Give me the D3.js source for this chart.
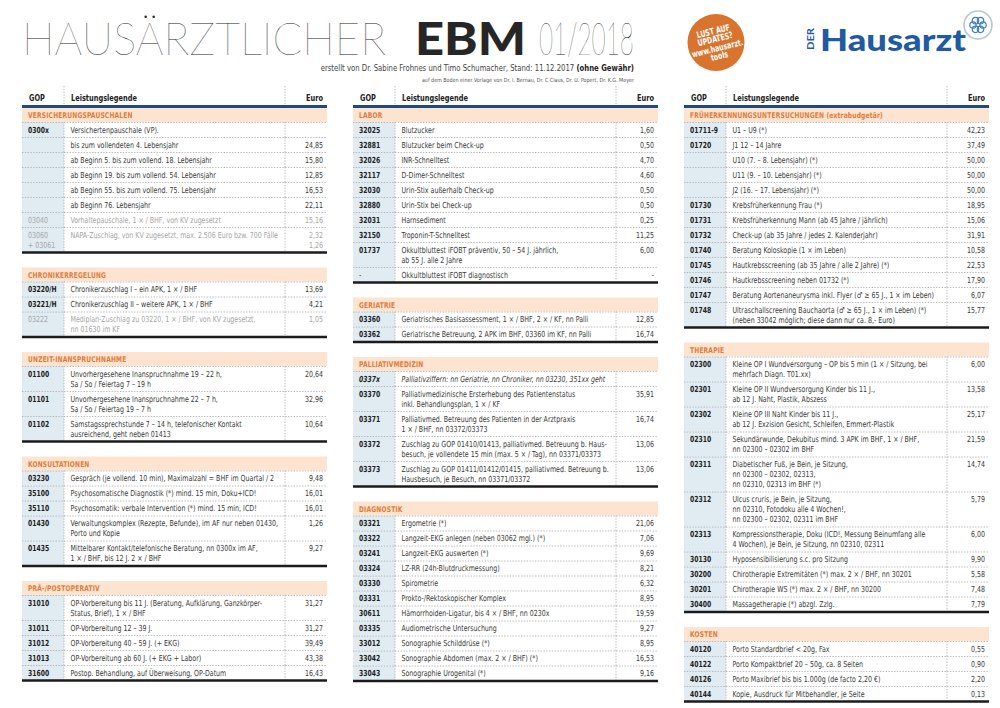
<!DOCTYPE html>
<html><head><meta charset="utf-8">
<script src="https://cdn.jsdelivr.net/npm/d3@7"></script>
<style>html,body{margin:0;padding:0;background:#fff;} svg{display:block}</style>
</head><body><svg id="c" width="1000" height="708"></svg>
<script>
// ---------------- DATA ----------------
const titleParts = ["HAUSÄRZTLICHER", "EBM", "01/2018"];
const subtitleParts = ["erstellt von Dr. Sabine Frohnes und Timo Schumacher, Stand: 11.12.2017 ", "(ohne Gewähr)"];
const creditLine = "auf dem Boden einer Vorlage von Dr. I. Bernau, Dr. C Claus, Dr. U. Popert, Dr. K.G. Meyer";
const badgeLines = ["LUST AUF", "UPDATES?", "www.hausarzt.", "tools"];
const logoWords = ["DER", "Hausarzt"];
const columnHeaders = ["GOP", "Leistungslegende", "Euro"];

const sectionTitles = ["VERSICHERUNGSPAUSCHALEN", "CHRONIKERREGELUNG", "UNZEIT-INANSPRUCHNAHME", "KONSULTATIONEN", "PRÄ-/POSTOPERATIV",
  "LABOR", "GERIATRIE", "PALLIATIVMEDIZIN", "DIAGNOSTIK",
  "FRÜHERKENNUNGSUNTERSUCHUNGEN", "THERAPIE", "KOSTEN"];
const sectionSubtitles = ["", "", "", "", "", "", "", "", "", " (extrabudgetär)", "", ""];
const sectionColumn = [0, 0, 0, 0, 0, 1, 1, 1, 1, 2, 2, 2];

const versicherungspauschalen = [
  ["0300x", "Versichertenpauschale (VP).", ""],
  ["", "bis zum vollendeten 4. Lebensjahr", "24,85"],
  ["", "ab Beginn 5. bis zum vollend. 18. Lebensjahr", "15,80"],
  ["", "ab Beginn 19. bis zum vollend. 54. Lebensjahr", "12,85"],
  ["", "ab Beginn 55. bis zum vollend. 75. Lebensjahr", "16,53"],
  ["", "ab Beginn 76. Lebensjahr", "22,11"],
  ["03040", "Vorhaltepauschale, 1 × / BHF, von KV zugesetzt", "15,16"],
  ["03060\n+ 03061", "NAPA-Zuschlag, von KV zugesetzt, max. 2.506 Euro bzw. 700 Fälle", "2,32\n1,26"]
];
const chronikerregelung = [
  ["03220/H", "Chronikerzuschlag I – ein APK, 1 × / BHF", "13,69"],
  ["03221/H", "Chronikerzuschlag II – weitere APK, 1 × / BHF", "4,21"],
  ["03222", "Mediplan-Zuschlag zu 03220, 1 × / BHF, von KV zugesetzt,\nnn 01630 im KF", "1,05"]
];
const unzeit = [
  ["01100", "Unvorhergesehene Inanspruchnahme 19 – 22 h,\nSa / So / Feiertag 7 – 19 h", "20,64"],
  ["01101", "Unvorhergesehene Inanspruchnahme 22 – 7 h,\nSa / So / Feiertag 19 – 7 h", "32,96"],
  ["01102", "Samstagssprechstunde 7 – 14 h, telefonischer Kontakt\nausreichend, geht neben 01413", "10,64"]
];
const konsultationen = [
  ["03230", "Gespräch (je vollend. 10 min), Maximalzahl = BHF im Quartal / 2", "9,48"],
  ["35100", "Psychosomatische Diagnostik (*) mind. 15 min, Doku+ICD!", "16,01"],
  ["35110", "Psychosomatik: verbale Intervention (*) mind. 15 min, ICD!", "16,01"],
  ["01430", "Verwaltungskomplex (Rezepte, Befunde), im AF nur neben 01430,\nPorto und Kopie", "1,26"],
  ["01435", "Mittelbarer Kontakt/telefonische Beratung, nn 0300x im AF,\n1 × / BHF, bis 12 J. 2 × / BHF", "9,27"]
];
const praepostoperativ = [
  ["31010", "OP-Vorbereitung bis 11 J. (Beratung, Aufklärung, Ganzkörper-\nStatus, Brief), 1 × / BHF", "31,27"],
  ["31011", "OP-Vorbereitung 12 – 39 J.", "31,27"],
  ["31012", "OP-Vorbereitung 40 – 59 J. (+ EKG)", "39,49"],
  ["31013", "OP-Vorbereitung ab 60 J. (+ EKG + Labor)", "43,38"],
  ["31600", "Postop. Behandlung, auf Überweisung, OP-Datum", "16,43"]
];
const labor = [
  ["32025", "Blutzucker", "1,60"],
  ["32881", "Blutzucker beim Check-up", "0,50"],
  ["32026", "INR-Schnelltest", "4,70"],
  ["32117", "D-Dimer-Schnelltest", "4,60"],
  ["32030", "Urin-Stix außerhalb Check-up", "0,50"],
  ["32880", "Urin-Stix bei Check-up", "0,50"],
  ["32031", "Harnsediment", "0,25"],
  ["32150", "Troponin-T-Schnelltest", "11,25"],
  ["01737", "Okkultbluttest iFOBT präventiv, 50 – 54 J. jährlich,\nab 55 J. alle 2 Jahre", "6,00"],
  ["-", "Okkultbluttest iFOBT diagnostisch", "-"]
];
const geriatrie = [
  ["03360", "Geriatrisches Basisassessment, 1 × / BHF, 2 × / KF, nn Palli", "12,85"],
  ["03362", "Geriatrische Betreuung, 2 APK im BHF, 03360 im KF, nn Palli", "16,74"]
];
const palliativmedizin = [
  ["0337x", "Palliativziffern: nn Geriatrie, nn Chroniker, nn 03230, 351xx geht", ""],
  ["03370", "Palliativmedizinische Ersterhebung des Patientenstatus\ninkl. Behandlungsplan, 1 × / KF", "35,91"],
  ["03371", "Palliativmed. Betreuung des Patienten in der Arztpraxis\n1 × / BHF, nn 03372/03373", "16,74"],
  ["03372", "Zuschlag zu GOP 01410/01413, palliativmed. Betreuung b. Haus-\nbesuch, je vollendete 15 min (max. 5 × / Tag), nn 03371/03373", "13,06"],
  ["03373", "Zuschlag zu GOP 01411/01412/01415, palliativmed. Betreuung b.\nHausbesuch, je Besuch, nn 03371/03372", "13,06"]
];
const diagnostik = [
  ["03321", "Ergometrie (*)", "21,06"],
  ["03322", "Langzeit-EKG anlegen (neben 03062 mgl.) (*)", "7,06"],
  ["03241", "Langzeit-EKG auswerten (*)", "9,69"],
  ["03324", "LZ-RR (24h-Blutdruckmessung)", "8,21"],
  ["03330", "Spirometrie", "6,32"],
  ["03331", "Prokto-/Rektoskopischer Komplex", "8,95"],
  ["30611", "Hämorrhoiden-Ligatur, bis 4 × / BHF, nn 0230x", "19,59"],
  ["03335", "Audiometrische Untersuchung", "9,27"],
  ["33012", "Sonographie Schilddrüse (*)", "8,95"],
  ["33042", "Sonographie Abdomen (max. 2 × / BHF) (*)", "16,53"],
  ["33043", "Sonographie Urogenital (*)", "9,16"]
];
const frueherkennung = [
  ["01711-9", "U1 – U9 (*)", "42,23"],
  ["01720", "J1 12 – 14 Jahre", "37,49"],
  ["", "U10 (7. – 8. Lebensjahr) (*)", "50,00"],
  ["", "U11 (9. – 10. Lebensjahr) (*)", "50,00"],
  ["", "J2 (16. – 17. Lebensjahr) (*)", "50,00"],
  ["01730", "Krebsfrüherkennung Frau (*)", "18,95"],
  ["01731", "Krebsfrüherkennung Mann (ab 45 Jahre / jährlich)", "15,06"],
  ["01732", "Check-up (ab 35 Jahre / jedes 2. Kalenderjahr)", "31,91"],
  ["01740", "Beratung Koloskopie (1 × im Leben)", "10,58"],
  ["01745", "Hautkrebsscreening (ab 35 Jahre / alle 2 Jahre) (*)", "22,53"],
  ["01746", "Hautkrebsscreening neben 01732 (*)", "17,90"],
  ["01747", "Beratung Aortenaneurysma inkl. Flyer (♂ ≥ 65 J., 1 × im Leben)", "6,07"],
  ["01748", "Ultraschallscreening Bauchaorta (♂ ≥ 65 J., 1 × im Leben) (*)\n(neben 33042 möglich; diese dann nur ca. 8,- Euro)", "15,77"]
];
const therapie = [
  ["02300", "Kleine OP I Wundversorgung – OP bis 5 min (1 × / Sitzung, bei\nmehrfach Diagn. T01.xx)", "6,00"],
  ["02301", "Kleine OP II Wundversorgung Kinder bis 11 J.,\nab 12 J. Naht, Plastik, Abszess", "13,58"],
  ["02302", "Kleine OP III Naht Kinder bis 11 J.,\nab 12 J. Exzision Gesicht, Schleifen, Emmert-Plastik", "25,17"],
  ["02310", "Sekundärwunde, Dekubitus mind. 3 APK im BHF, 1 × / BHF,\nnn 02300 – 02302 im BHF", "21,59"],
  ["02311", "Diabetischer Fuß, je Bein, je Sitzung,\nnn 02300 – 02302, 02313,\nnn 02310, 02313 im BHF (*)", "14,74"],
  ["02312", "Ulcus cruris, je Bein, je Sitzung,\nnn 02310, Fotodoku alle 4 Wochen!,\nnn 02300 – 02302, 02311 im BHF", "5,79"],
  ["02313", "Kompressionstherapie, Doku (ICD!, Messung Beinumfang alle\n4 Wochen), je Bein, je Sitzung, nn 02310, 02311", "6,00"],
  ["30130", "Hyposensibilisierung s.c. pro Sitzung", "9,90"],
  ["30200", "Chirotherapie Extremitäten (*) max. 2 × / BHF, nn 30201", "5,58"],
  ["30201", "Chirotherapie WS (*) max. 2 × / BHF, nn 30200", "7,48"],
  ["30400", "Massagetherapie (*) abzgl. Zzlg.", "7,79"]
];
const kosten = [
  ["40120", "Porto Standardbrief < 20g, Fax", "0,55"],
  ["40122", "Porto Kompaktbrief 20 – 50g, ca. 8 Seiten", "0,90"],
  ["40126", "Porto Maxibrief bis bis 1.000g (de facto 2,20 €)", "2,20"],
  ["40144", "Kopie, Ausdruck für Mitbehandler, je Seite", "0,13"]
];
const sectionRows = [versicherungspauschalen, chronikerregelung, unzeit, konsultationen, praepostoperativ,
  labor, geriatrie, palliativmedizin, diagnostik, frueherkennung, therapie, kosten];
const greyedGOPs = ["03040", "03060\n+ 03061", "03222"];
const italicGOPs = ["0337x"];

// ---------------- FONTS ----------------
const ctx = document.createElement("canvas").getContext("2d");
function fontAvailable(name) {
  const s = "mmmmmmmmmmlliWW0123 abcdefghijklmnopqrstuvwxyz";
  for (const base of ["monospace", "serif", "sans-serif"]) {
    ctx.font = "40px " + base; const a = ctx.measureText(s).width;
    ctx.font = `40px "${name}", ${base}`; const b = ctx.measureText(s).width;
    if (Math.abs(a - b) > 0.01) return true;
  }
  return false;
}
const bodyName = ["Liberation Sans Narrow", "Arial Narrow", "DejaVu Sans Condensed", "Roboto Condensed", "Open Sans Condensed", "Liberation Sans"].find(fontAvailable) || "Liberation Sans";
const bodyFam = `"${bodyName}", "Liberation Sans", sans-serif`;
const titleFam = `Lato, "Open Sans", sans-serif`;
function measure(str, size, weight, family, style) {
  ctx.font = `${style || "normal"} ${weight} ${size}px ${family}`;
  return ctx.measureText(str).width;
}
const clamp = v => Math.max(0.55, Math.min(1.3, v));
const BODY = 8.3, HEAD = 9, BANDF = 7.8;
const sxBody = clamp(208 / measure(versicherungspauschalen[7][1], BODY, 400, bodyFam));
const sxBold = clamp(66 / measure(columnHeaders[1], HEAD, 700, bodyFam));
const sxBand = clamp(101 / measure(sectionTitles[0], BANDF, 700, bodyFam));

const svg = d3.select("#c");
function addText(g, x, y, s, o) {
  return g.append("text")
    .attr("transform", `translate(${x},${y}) scale(${o.sx || 1},1)`)
    .attr("font-family", o.fam || bodyFam).attr("font-size", o.size || BODY)
    .attr("font-weight", o.weight || 400).attr("font-style", o.style || "normal")
    .attr("fill", o.fill || "#3a3a3a").attr("text-anchor", o.anchor || "start")
    .text(s);
}

// ---------------- TITLE ----------------
{
  const size = 45;
  const spans = [
    { s: titleParts[0], x: 22, w: 364, wt: 200 },
    { s: titleParts[1], x: 415, w: 111, wt: 900 },
    { s: titleParts[2], x: 539, w: 95, wt: 200 }
  ];
  spans.forEach(p => addText(svg, p.x, 55, p.s, {
    fam: titleFam, size, weight: p.wt, fill: "#262626", sx: p.w / measure(p.s, size, p.wt, titleFam)
  }));

  const s1 = 8.4;
  const w1 = measure(subtitleParts[0], s1, 400, bodyFam) + measure(subtitleParts[1], s1, 700, bodyFam);
  const sub = svg.append("text").attr("transform", `translate(634,71) scale(${313 / w1},1)`)
    .attr("font-family", bodyFam).attr("font-size", s1).attr("fill", "#444").attr("text-anchor", "end");
  sub.append("tspan").text(subtitleParts[0]);
  sub.append("tspan").attr("font-weight", 700).attr("fill", "#222").text(subtitleParts[1]);
  const s2 = 5.6;
  addText(svg, 634, 81.5, creditLine, { size: s2, sx: 212 / measure(creditLine, s2, 400, bodyFam), anchor: "end", fill: "#555" });
}

// ---------------- BADGE + LOGO ----------------
{
  svg.append("circle").attr("cx", 716).attr("cy", 42.5).attr("r", 28.5).attr("fill", "#d9742f");
  const bg = svg.append("g").attr("transform", "translate(716,42.5) rotate(-14)");
  const offs = [-8.5, -0.5, 9, 17];
  badgeLines.forEach((l, i) => addText(bg, 0, offs[i], l, { size: 9, weight: 700, fill: "#fff", anchor: "middle", sx: sxBold * 0.95 }));

  const ls = 31;
  const lw = measure(logoWords[1], ls, 900, titleFam);
  addText(svg, 820, 50.5, logoWords[1], { fam: titleFam, size: ls, weight: 900, fill: "#1f5aa3", sx: 146 / lw });
  const dg = svg.append("g").attr("transform", "translate(814,50) rotate(-90)");
  addText(dg, 0, 0, logoWords[0], { fam: titleFam, size: 8.5, weight: 700, fill: "#1f5aa3", sx: 22 / measure(logoWords[0], 8.5, 700, titleFam) });
  svg.append("circle").attr("cx", 978).attr("cy", 25).attr("r", 14).attr("fill", "#fff").attr("stroke", "#b9c8d6").attr("stroke-width", 1.6);
  const petals = d3.range(6).map(i => i * Math.PI / 3);
  svg.selectAll(".petal").data(petals).join("circle").attr("class", "petal")
    .attr("cx", a => 978 + 5 * Math.cos(a)).attr("cy", a => 25 + 5 * Math.sin(a)).attr("r", 3.2)
    .attr("fill", "none").attr("stroke", "#3f7fc0").attr("stroke-width", 1.2);
}

// ---------------- TABLE ----------------
const colScale = d3.scaleBand().domain([0, 1, 2]).range([22, 989]).paddingInner(26 / 331);
const W = colScale.bandwidth();
const GOPW = 42, EUROW = 42;
const ROW = 15, LINE = 10, BAND = 14, GAP = 15.5, TOP = 108;
const dotted = "1.4,1.4";
const C = { blue: "#1d4c7b", band: "#fde4d1", orange: "#e27b37", gopBg: "#e0ebf2", dots: "#a9a9a9", rule: "#1b1b1b" };

// headers
[0, 1, 2].forEach(c => {
  const x0 = colScale(c), x1 = x0 + W;
  const g = svg.append("g");
  addText(g, x0 + 7, 100.5, columnHeaders[0], { size: HEAD, weight: 700, fill: "#222", sx: sxBold });
  addText(g, x0 + GOPW + 7, 100.5, columnHeaders[1], { size: HEAD, weight: 700, fill: "#222", sx: sxBold });
  addText(g, x1 - 4, 100.5, columnHeaders[2], { size: HEAD, weight: 700, fill: "#222", sx: sxBold, anchor: "end" });
  [x0 + GOPW, x1 - EUROW].forEach(x => g.append("line").attr("x1", x).attr("x2", x).attr("y1", 86).attr("y2", 105)
    .attr("stroke", C.dots).attr("stroke-width", 0.8).attr("stroke-dasharray", dotted));
  g.append("rect").attr("x", x0).attr("y", 105).attr("width", W).attr("height", 3).attr("fill", C.blue);
});

const colY = [TOP, TOP, TOP];
sectionTitles.forEach((title, si) => {
  const c = sectionColumn[si];
  const x0 = colScale(c), x1 = x0 + W;
  let y = colY[c];
  const g = svg.append("g");
  g.append("rect").attr("x", x0).attr("y", y).attr("width", W).attr("height", BAND).attr("fill", C.band);
  const tt = g.append("text").attr("transform", `translate(${x0 + 6},${y + 10}) scale(${sxBand},1)`)
    .attr("font-family", bodyFam).attr("font-size", BANDF).attr("font-weight", 700).attr("fill", C.orange)
    .attr("letter-spacing", 0.2);
  tt.append("tspan").text(title);
  if (sectionSubtitles[si]) tt.append("tspan").text(sectionSubtitles[si]);
  y += BAND;
  sectionRows[si].forEach(row => {
    const [gop, txt, euro] = row;
    const lines = txt.split("\n"), gl = gop.split("\n"), el = euro.split("\n");
    const n = Math.max(lines.length, gl.length, el.length);
    const h = ROW + (n - 1) * LINE;
    const grey = greyedGOPs.includes(gop), ital = italicGOPs.includes(gop);
    const fill = grey ? "#a6a6a6" : "#3a3a3a";
    g.append("rect").attr("x", x0).attr("y", y).attr("width", GOPW).attr("height", h).attr("fill", C.gopBg);
    g.append("line").attr("x1", x0).attr("x2", x1).attr("y1", y + 0.5).attr("y2", y + 0.5)
      .attr("stroke", C.dots).attr("stroke-width", 0.8).attr("stroke-dasharray", dotted);
    [x0 + GOPW, x1 - EUROW].forEach(x => g.append("line").attr("x1", x).attr("x2", x).attr("y1", y).attr("y2", y + h)
      .attr("stroke", C.dots).attr("stroke-width", 0.8).attr("stroke-dasharray", dotted));
    gl.forEach((s, i) => addText(g, x0 + 6, y + 10.8 + i * LINE, s, {
      size: BODY, weight: (grey || gop === "-") ? 400 : 700, style: ital ? "italic" : "normal",
      fill: grey ? "#a6a6a6" : "#222", sx: (grey || gop === "-") ? sxBody : sxBold
    }));
    lines.forEach((s, i) => addText(g, x0 + GOPW + 6.5, y + 10.8 + i * LINE, s, { size: BODY, fill, style: ital ? "italic" : "normal", sx: sxBody }));
    el.forEach((s, i) => addText(g, x1 - 4, y + 10.8 + i * LINE, s, { size: BODY, fill, anchor: "end", sx: sxBody }));
    y += h;
  });
  g.append("line").attr("x1", x0).attr("x2", x1).attr("y1", y + 0.5).attr("y2", y + 0.5)
    .attr("stroke", C.rule).attr("stroke-width", 2.4);
  colY[c] = y + GAP;
});
</script>
</body></html>
